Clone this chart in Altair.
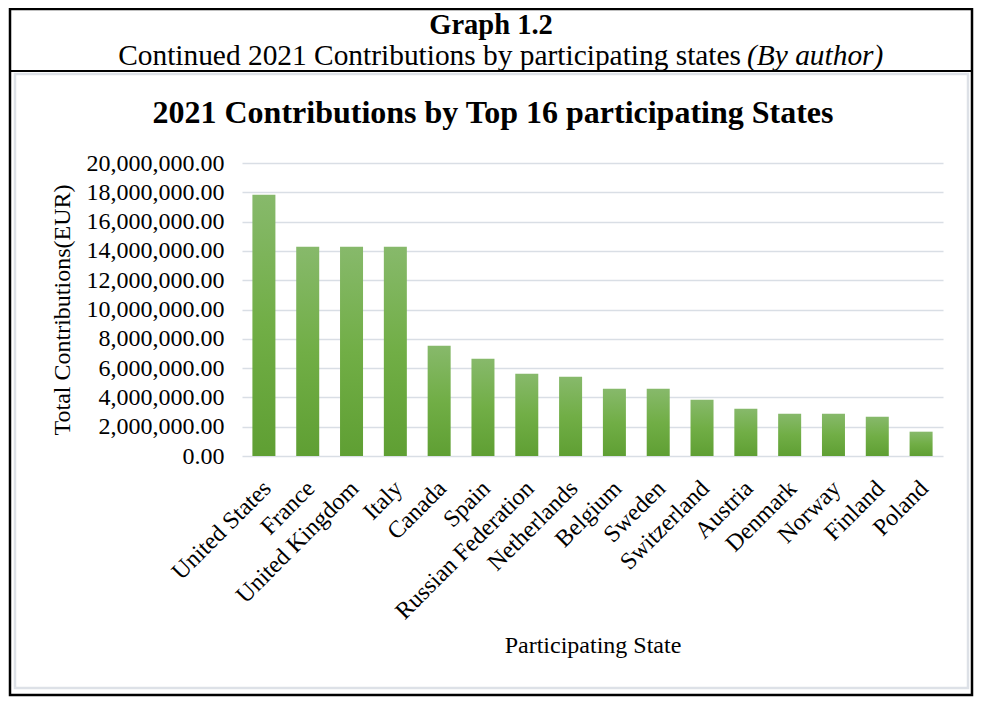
import altair as alt
import pandas as pd

states = ["United States", "France", "United Kingdom", "Italy", "Canada", "Spain",
          "Russian Federation", "Netherlands", "Belgium", "Sweden", "Switzerland",
          "Austria", "Denmark", "Norway", "Finland", "Poland"]
contributions = [17840000, 14290000, 14290000, 14290000, 7530000, 6640000,
                 5620000, 5410000, 4590000, 4590000, 3840000, 3230000,
                 2890000, 2890000, 2680000, 1660000]
y_ticks = [0, 2000000, 4000000, 6000000, 8000000, 10000000, 12000000,
           14000000, 16000000, 18000000, 20000000]

header_title = "Graph 1.2"
header_sub = "Continued 2021 Contributions by participating states"
header_sub_italic = "(By author)"
chart_title = "2021 Contributions by Top 16 participating States"
x_title = "Participating State"
y_title = "Total Contributions(EUR)"

FONT = "Liberation Serif"

df = pd.DataFrame({"state": states, "value": contributions})
one = pd.DataFrame({"k": [0]})

gradient = alt.Gradient(
    gradient="linear", x1=0, x2=0, y1=0, y2=1,
    stops=[alt.GradientStop(offset=0, color="#87b96b"),
           alt.GradientStop(offset=0.5, color="#71ae46"),
           alt.GradientStop(offset=1, color="#5f9f33")])

bars = alt.Chart(df).mark_bar(color=gradient).encode(
    x=alt.X("state:N", sort=states, title=x_title,
            scale=alt.Scale(paddingInner=0.475, paddingOuter=0.2375),
            axis=alt.Axis(labelAngle=-45, labelFont=FONT, labelFontSize=24,
                          labelColor="black", ticks=False, domain=False,
                          labelPadding=20, labelOffset=-5, labelLimit=400,
                          titleFont=FONT, titleFontSize=24, titleFontWeight="normal",
                          titleColor="black", titlePadding=10)),
    y=alt.Y("value:Q", title=y_title,
            scale=alt.Scale(domain=[0, 20000000], nice=False),
            axis=alt.Axis(values=y_ticks, format=",.2f", labelFont=FONT,
                          labelFontSize=24, labelColor="black", ticks=False,
                          domain=False, labelPadding=18, grid=True,
                          gridColor="#d9dee5", gridWidth=1.6,
                          titleFont=FONT, titleFontSize=24, titleFontWeight="normal",
                          titleColor="black", titlePadding=12)),
)

outer = alt.Chart(one).mark_rect(fill=None, stroke="black", strokeWidth=2.5).encode(
    x=alt.value(-232), x2=alt.value(730), y=alt.value(-154), y2=alt.value(532))
header_line = alt.Chart(one).mark_rule(color="black", strokeWidth=2).encode(
    x=alt.value(-232), x2=alt.value(730), y=alt.value(-92))
inner = alt.Chart(one).mark_rect(fill=None, stroke="#dde1e7", strokeWidth=2.5).encode(
    x=alt.value(-227), x2=alt.value(726), y=alt.value(-89), y2=alt.value(525))

t1 = alt.Chart(one).mark_text(font=FONT, fontSize=28.5, fontWeight="bold", color="black",
                              align="center", baseline="alphabetic").encode(
    x=alt.value(249), y=alt.value(-129), text=alt.value(header_title))
t2 = alt.Chart(one).mark_text(font=FONT, fontSize=29.4, color="black",
                              align="right", baseline="alphabetic").encode(
    x=alt.value(499), y=alt.value(-98), text=alt.value(header_sub))
t3 = alt.Chart(one).mark_text(font=FONT, fontSize=29.4, fontStyle="italic", color="black",
                              align="left", baseline="alphabetic").encode(
    x=alt.value(505), y=alt.value(-98), text=alt.value(header_sub_italic))
t4 = alt.Chart(one).mark_text(font=FONT, fontSize=32, fontWeight="bold", color="black",
                              align="center", baseline="alphabetic").encode(
    x=alt.value(251), y=alt.value(-40), text=alt.value(chart_title))

chart = alt.layer(outer, header_line, inner, bars, t1, t2, t3, t4).properties(
    width=701, height=293,
    autosize=alt.AutoSizeParams(type="none"),
    padding={"left": 234, "top": 155, "right": 31, "bottom": 241},
    background="white",
).configure_view(stroke=None)

chart.save("out.html", embed_options={"renderer": "svg", "actions": False})
